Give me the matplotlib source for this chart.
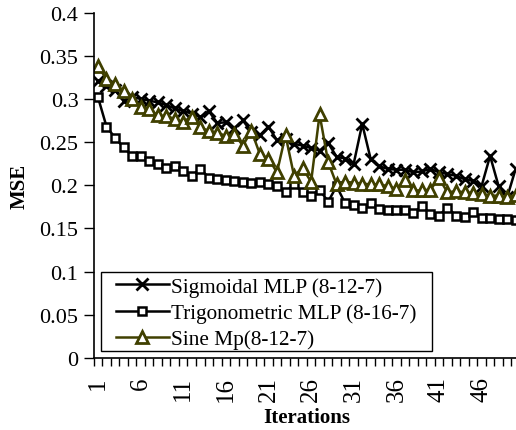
import numpy as np
import matplotlib.pyplot as plt
from matplotlib.patches import Rectangle

# MSE per iteration
iterations = np.arange(1, 51)

sigmoid_mse = [0.321, 0.315, 0.310, 0.298, 0.302, 0.300, 0.298, 0.296, 0.293, 0.289,
               0.286, 0.283, 0.279, 0.286, 0.272, 0.273, 0.266, 0.275, 0.262, 0.258,
               0.268, 0.252, 0.254, 0.248, 0.246, 0.243, 0.240, 0.249, 0.233, 0.231,
               0.225, 0.271, 0.230, 0.222, 0.219, 0.218, 0.218, 0.215, 0.216, 0.219,
               0.215, 0.213, 0.211, 0.207, 0.205, 0.199, 0.234, 0.199, 0.186, 0.219]

trig_mse = [0.302, 0.268, 0.255, 0.244, 0.234, 0.234, 0.228, 0.225, 0.220, 0.222,
            0.216, 0.211, 0.219, 0.209, 0.207, 0.206, 0.205, 0.204, 0.203, 0.204,
            0.202, 0.199, 0.192, 0.201, 0.192, 0.188, 0.195, 0.181, 0.199, 0.179,
            0.177, 0.174, 0.180, 0.172, 0.171, 0.171, 0.171, 0.168, 0.176, 0.167,
            0.165, 0.174, 0.165, 0.163, 0.169, 0.162, 0.162, 0.161, 0.161, 0.160]

sine_mse = [0.338, 0.323, 0.317, 0.309, 0.300, 0.291, 0.288, 0.281, 0.280, 0.277,
            0.273, 0.279, 0.267, 0.263, 0.261, 0.257, 0.259, 0.246, 0.263, 0.236,
            0.231, 0.215, 0.258, 0.211, 0.220, 0.204, 0.282, 0.227, 0.201, 0.204,
            0.203, 0.202, 0.201, 0.201, 0.199, 0.196, 0.206, 0.194, 0.194, 0.195,
            0.208, 0.192, 0.193, 0.192, 0.191, 0.190, 0.188, 0.188, 0.186, 0.189]

series_labels = ["Sigmoidal MLP (8-12-7)", "Trigonometric MLP (8-16-7)", "Sine Mp(8-12-7)"]
x_tick_labels = [str(i) for i in range(1, 51, 5)]

plt.rcParams['font.family'] = ['Liberation Serif', 'DejaVu Serif']

fig = plt.figure(figsize=(5.16, 4.31), dpi=100)
ax = fig.add_axes([0.1816, 0.167, 0.826, 0.8016])

olive = '#404000'
ax.plot(iterations, sigmoid_mse, color='black', lw=1.8, marker='x', markersize=9,
        markeredgewidth=2, label=series_labels[0])
ax.plot(iterations, trig_mse, color='black', lw=1.8, marker='s', markersize=6,
        markerfacecolor='white', markeredgewidth=1.8, label=series_labels[1])
ax.plot(iterations, sine_mse, color=olive, lw=1.8, marker='^', markersize=9,
        markerfacecolor='white', markeredgewidth=2, label=series_labels[2])

ax.set_xlim(0.5, 50.5)
ax.set_ylim(0, 0.4)
ax.set_yticks(np.arange(0, 0.401, 0.05))
ax.set_yticklabels(['0', '0.05', '0.1', '0.15', '0.2', '0.25', '0.3', '0.35', '0.4'],
                   fontsize=16)

# category axis: labels at centres, tick marks between categories
ax.set_xticks(range(1, 51, 5))
ax.set_xticklabels(x_tick_labels, rotation=90, fontsize=18)
ax.set_xticks(np.arange(0.5, 51, 1), minor=True)
ax.tick_params(axis='x', which='major', length=0, pad=13)
ax.tick_params(axis='x', which='minor', length=6, width=1, direction='out')
ax.tick_params(axis='y', length=7, width=1, direction='out', pad=4)

for side in ['top', 'right']:
    ax.spines[side].set_visible(False)
ax.spines['left'].set_linewidth(1.2)
ax.spines['bottom'].set_linewidth(1.2)

ax.set_xlabel('Iterations', fontsize=15, fontweight='bold', labelpad=4)
ax.set_ylabel('MSE', fontsize=15, fontweight='bold', labelpad=7)

# legend box drawn separately so its padding can differ horizontally/vertically
box = Rectangle((0.017, 0.02), 0.777, 0.229, transform=ax.transAxes,
                facecolor='white', edgecolor='black', lw=1, zorder=4)
ax.add_patch(box)
leg = ax.legend(loc='lower left', bbox_to_anchor=(0.052, 0.025), fontsize=15.3,
                frameon=False, handlelength=2.5, borderpad=0, labelspacing=0.3,
                handletextpad=0.1, borderaxespad=0)
leg.set_zorder(5)

fig.savefig('out.png', dpi=100)
